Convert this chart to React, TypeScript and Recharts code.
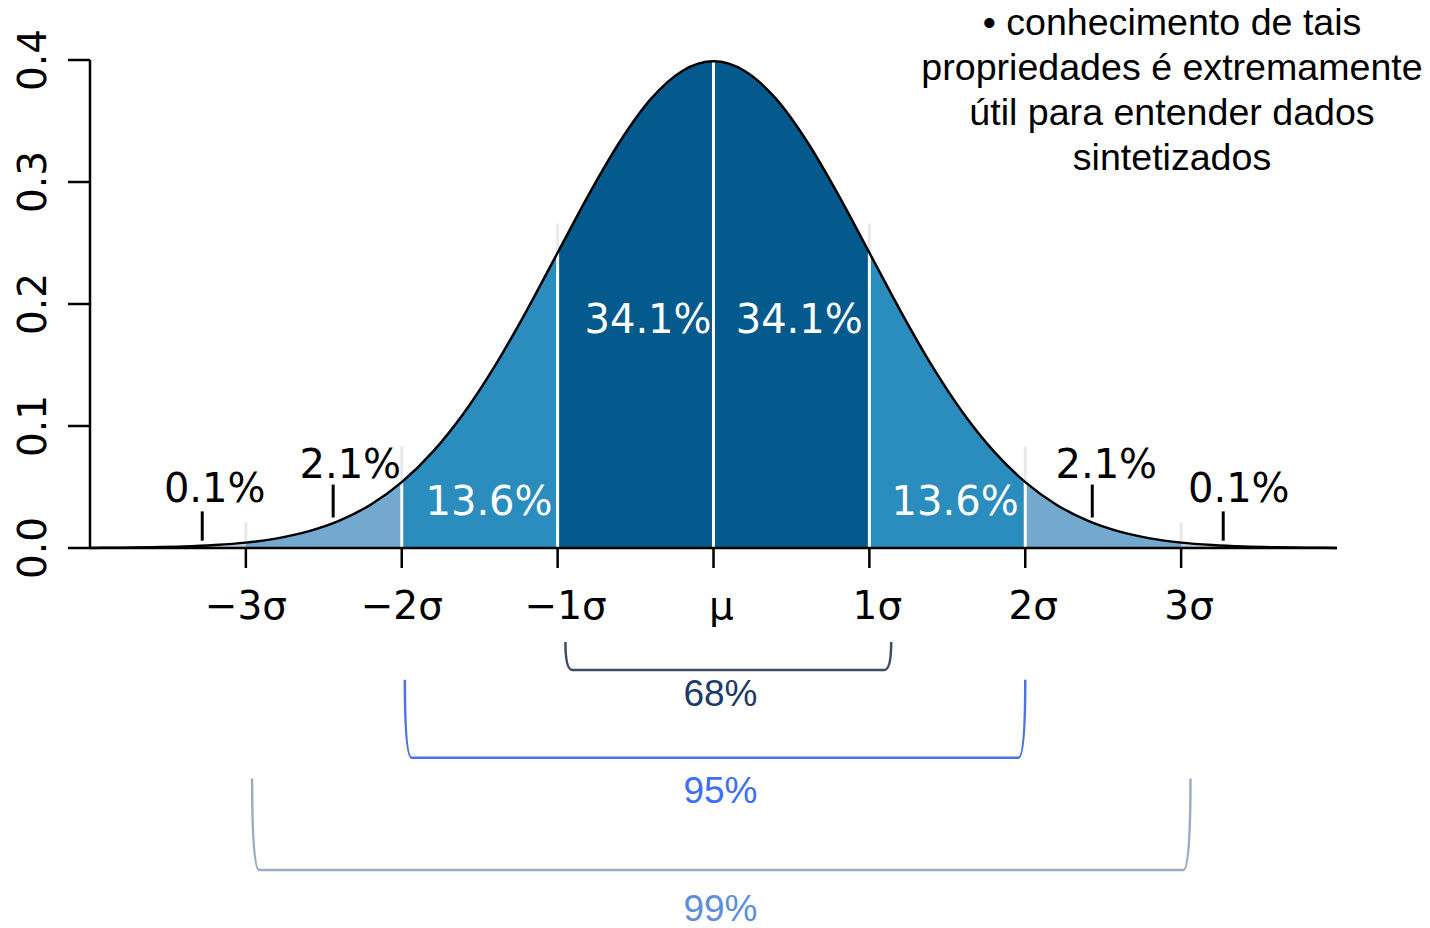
import React from 'react';
import {
  ComposedChart,
  Area,
  Line,
  XAxis,
  YAxis,
  ReferenceLine,
  ReferenceDot,
} from 'recharts';

// standard normal curve, read at 0.2 steps
const xs = [
  -4, -3.8, -3.6, -3.4, -3.2, -3, -2.8, -2.6, -2.4, -2.2, -2, -1.8, -1.6, -1.4,
  -1.2, -1, -0.8, -0.6, -0.4, -0.2, 0, 0.2, 0.4, 0.6, 0.8, 1, 1.2, 1.4, 1.6,
  1.8, 2, 2.2, 2.4, 2.6, 2.8, 3, 3.2, 3.4, 3.6, 3.8, 4,
];
const density = [
  0.0001, 0.0003, 0.0006, 0.0012, 0.0024, 0.0044, 0.0079, 0.0136, 0.0224,
  0.0355, 0.054, 0.079, 0.1109, 0.1497, 0.1942, 0.242, 0.2897, 0.3332, 0.3683,
  0.391, 0.3989, 0.391, 0.3683, 0.3332, 0.2897, 0.242, 0.1942, 0.1497, 0.1109,
  0.079, 0.054, 0.0355, 0.0224, 0.0136, 0.0079, 0.0044, 0.0024, 0.0012, 0.0006,
  0.0003, 0.0001,
];

const sigmaTicks = [-3, -2, -1, 0, 1, 2, 3];
const sigmaLabels = ['\u22123\u03c3', '\u22122\u03c3', '\u22121\u03c3', '\u03bc', '1\u03c3', '2\u03c3', '3\u03c3'];
const yTicks = [0, 0.1, 0.2, 0.3, 0.4];
const yTickLabels = ['0.0', '0.1', '0.2', '0.3', '0.4'];

// share of the area in each band
const shareLabels = ['0.1%', '2.1%', '13.6%', '34.1%', '34.1%', '13.6%', '2.1%', '0.1%'];
const shareX = [-3.2, -2.33, -1.44, -0.42, 0.55, 1.55, 2.52, 3.37];
const shareY = [0.049, 0.069, 0.039, 0.188, 0.188, 0.039, 0.069, 0.049];

// small pointers under the outer labels
const pointerX = [-3.28, -2.44, 2.43, 3.27];
const pointerTop = [0.03, 0.052, 0.052, 0.03];
const pointerBottom = [0.006, 0.025, 0.025, 0.006];

// white dividers and the faint stubs above the curve
const dividerX = [-2, -1, 0, 1, 2];
const stubX = [-3, -2, -1, 1, 2, 3];
const stubTop = [0.021, 0.083, 0.266, 0.266, 0.083, 0.021];

// brackets under the axis
const bracketLabels = ['68%', '95%', '99%'];
const bracketFrom = [-0.95, -1.98, -2.96];
const bracketTo = [1.14, 2.0, 3.06];
const bracketTop = [-0.077, -0.108, -0.189];
const bracketBottom = [-0.1, -0.172, -0.264];
const bracketLabelX = [0.045, 0.045, 0.045];
const bracketLabelY = [-0.119, -0.198, -0.295];

const noteLines = [
  '\u2022 conhecimento de tais',
  'propriedades \u00e9 extremamente',
  '\u00fatil para entender dados',
  'sintetizados',
];

const PUBU = {
  tail: '#bdc9e1',
  b3: '#74a9cf',
  b2: '#2b8cbe',
  b1: '#045a8d',
};
const bracketStroke = ['#3e4c63', '#4b73e4', '#9dacc4'];
const bracketText = ['#1d3b66', '#3d6ff2', '#5f8fd9'];

const dv = (x: number) => density[xs.indexOf(x)];

const rows = xs.map((x, i) => {
  const a = Math.abs(x);
  const y = density[i];
  return {
    x,
    y,
    tail: a >= 3 ? y : null,
    b3: a >= 2 && a <= 3 ? y : null,
    b2: a >= 1 && a <= 2 ? y : null,
    b1: a <= 1 ? y : null,
  };
});

const dejavu = '"DejaVu Sans", sans-serif';
const arial = '"Liberation Sans", Arial, sans-serif';

const XTick = (props: any) => {
  const { x, y, payload } = props;
  const idx = sigmaTicks.indexOf(payload.value);
  const dx = payload.value < -1.5 ? 0 : 8;
  return (
    <text
      x={x + dx}
      y={y + 35}
      textAnchor="middle"
      dominantBaseline="central"
      fontFamily={dejavu}
      fontSize={39}
      fill="#000"
    >
      {sigmaLabels[idx]}
    </text>
  );
};

const YTick = (props: any) => {
  const { x, y, payload } = props;
  const idx = yTicks.indexOf(payload.value);
  const cx = x - 34;
  return (
    <text
      x={cx}
      y={y}
      transform={`rotate(-90, ${cx}, ${y})`}
      textAnchor="middle"
      dominantBaseline="central"
      fontFamily={dejavu}
      fontSize={39}
      fill="#000"
    >
      {yTickLabels[idx]}
    </text>
  );
};

const bracketShape = (stroke: string) => (p: any) => {
  const { x1, y1, x2, y2 } = p;
  const left = Math.min(x1, x2);
  const right = Math.max(x1, x2);
  const top = Math.min(y1, y2);
  const bottom = Math.max(y1, y2);
  const r = 7;
  const d = `M ${left} ${top} Q ${left} ${bottom} ${left + r} ${bottom} L ${right - r} ${bottom} Q ${right} ${bottom} ${right} ${top}`;
  return <path d={d} fill="none" stroke={stroke} strokeWidth={2.5} />;
};

export default function App() {
  return (
    <div style={{ position: 'absolute', left: 0, top: 0, width: 1430, height: 928, background: '#fff' }}>
      <ComposedChart
        width={1430}
        height={928}
        data={rows}
        margin={{ top: 60, right: 93, bottom: 310, left: 0 }}
      >
        <XAxis
          dataKey="x"
          type="number"
          domain={[-4, 4]}
          ticks={sigmaTicks}
          tick={<XTick />}
          tickSize={20}
          height={70}
          axisLine={{ stroke: '#000', strokeWidth: 2.5 }}
          tickLine={{ stroke: '#000', strokeWidth: 2.5 }}
          interval={0}
        />
        <YAxis
          type="number"
          domain={[0, 0.4]}
          ticks={yTicks}
          tick={<YTick />}
          tickSize={22}
          width={90}
          axisLine={{ stroke: '#000', strokeWidth: 2.5 }}
          tickLine={{ stroke: '#000', strokeWidth: 2.5 }}
          interval={0}
        />
        <Area type="monotone" dataKey="tail" stroke="none" fill={PUBU.tail} fillOpacity={1} isAnimationActive={false} />
        <Area type="monotone" dataKey="b3" stroke="none" fill={PUBU.b3} fillOpacity={1} isAnimationActive={false} />
        <Area type="monotone" dataKey="b2" stroke="none" fill={PUBU.b2} fillOpacity={1} isAnimationActive={false} />
        <Area type="monotone" dataKey="b1" stroke="none" fill={PUBU.b1} fillOpacity={1} isAnimationActive={false} />

        {stubX.map((x, i) => (
          <ReferenceLine
            key={`stub-${i}`}
            segment={[{ x, y: dv(x) }, { x, y: stubTop[i] }]}
            stroke="#e8e8e8"
            strokeWidth={3}
            ifOverflow="visible"
          />
        ))}
        {dividerX.map((x, i) => (
          <ReferenceLine
            key={`div-${i}`}
            segment={[{ x, y: 0 }, { x, y: dv(x) }]}
            stroke="#fff"
            strokeWidth={3}
            ifOverflow="visible"
          />
        ))}

        <Line type="monotone" dataKey="y" stroke="#000" strokeWidth={2.5} dot={false} isAnimationActive={false} />

        {pointerX.map((x, i) => (
          <ReferenceLine
            key={`ptr-${i}`}
            segment={[{ x, y: pointerBottom[i] }, { x, y: pointerTop[i] }]}
            stroke="#000"
            strokeWidth={3}
            ifOverflow="visible"
          />
        ))}

        {shareLabels.map((s, i) => (
          <ReferenceDot
            key={`share-${i}`}
            x={shareX[i]}
            y={shareY[i]}
            r={0}
            fill="none"
            stroke="none"
            ifOverflow="visible"
            label={{
              value: s,
              position: 'center',
              fill: Math.abs(shareX[i]) < 2 ? '#fff' : '#000',
              fontSize: 40,
              fontFamily: dejavu,
            }}
          />
        ))}

        {bracketLabels.map((s, i) => (
          <ReferenceLine
            key={`br-${i}`}
            segment={[
              { x: bracketFrom[i], y: bracketTop[i] },
              { x: bracketTo[i], y: bracketBottom[i] },
            ]}
            ifOverflow="visible"
            shape={bracketShape(bracketStroke[i])}
          />
        ))}
        {bracketLabels.map((s, i) => (
          <ReferenceDot
            key={`brl-${i}`}
            x={bracketLabelX[i]}
            y={bracketLabelY[i]}
            r={0}
            fill="none"
            stroke="none"
            ifOverflow="visible"
            label={{
              value: s,
              position: 'center',
              fill: bracketText[i],
              fontSize: 37,
              fontFamily: arial,
            }}
          />
        ))}
      </ComposedChart>
      <div
        style={{
          position: 'absolute',
          left: 887,
          top: 0,
          width: 570,
          textAlign: 'center',
          fontFamily: arial,
          fontSize: 37.6,
          lineHeight: '45px',
          color: '#000',
        }}
      >
        {noteLines.map((l, i) => (
          <div key={i}>{l}</div>
        ))}
      </div>
    </div>
  );
}
